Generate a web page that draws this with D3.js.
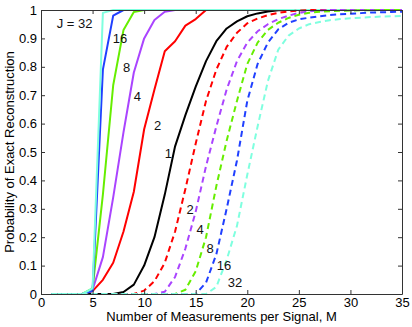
<!DOCTYPE html>
<html>
<head>
<meta charset="utf-8">
<script src="https://cdn.jsdelivr.net/npm/d3@7"></script>
<style>
  body { margin: 0; background: #fff; }
  svg { display: block; font-family: 'Liberation Sans', Arial, sans-serif; }
</style>
</head>
<body>
<svg id="chart" width="412" height="327"></svg>
<script>
// Data
//
// number of measurements per signal
var M = [1, 2, 3, 4, 5, 6, 7, 8, 9, 10, 11, 12, 13, 14, 15, 16, 17, 18, 19, 20,
  21, 22, 23, 24, 25, 26, 27, 28, 29, 30, 31, 32, 33, 34, 35]
// solid curves (joint recovery), J = 1, 2, 4, 8, 16, 32
var solid1 = [0, 0, 0, 0, 0, 0, 0, 0.007, 0.033, 0.10, 0.20, 0.35, 0.52, 0.63, 0.73, 0.82, 0.89, 0.935, 0.96, 0.978,
  0.988, 0.995, 0.999, 1, 1, 1, 1, 1, 1, 1, 1, 1, 1, 1, 1]
var solid2 = [0, 0, 0, 0, 0.01, 0.05, 0.11, 0.22, 0.36, 0.58, 0.72, 0.855, 0.89, 0.945, 0.968, 1, 1, 1, 1, 1,
  1, 1, 1, 1, 1, 1, 1, 1, 1, 1, 1, 1, 1, 1, 1]
var solid4 = [0, 0, 0, 0, 0.015, 0.13, 0.34, 0.57, 0.78, 0.90, 0.965, 0.994, 1, 1, 1, 1, 1, 1, 1, 1,
  1, 1, 1, 1, 1, 1, 1, 1, 1, 1, 1, 1, 1, 1, 1]
var solid8 = [0, 0, 0, 0, 0.02, 0.35, 0.735, 0.93, 0.993, 1, 1, 1, 1, 1, 1, 1, 1, 1, 1, 1,
  1, 1, 1, 1, 1, 1, 1, 1, 1, 1, 1, 1, 1, 1, 1]
var solid16 = [0, 0, 0, 0, 0.01, 0.79, 0.98, 1, 1, 1, 1, 1, 1, 1, 1, 1, 1, 1, 1, 1,
  1, 1, 1, 1, 1, 1, 1, 1, 1, 1, 1, 1, 1, 1, 1]
var solid32 = [0, 0, 0, 0, 0.02, 0.99, 1, 1, 1, 1, 1, 1, 1, 1, 1, 1, 1, 1, 1, 1,
  1, 1, 1, 1, 1, 1, 1, 1, 1, 1, 1, 1, 1, 1, 1]
// dashed curves (separate recovery), J = 2, 4, 8, 16, 32
var dashed2 = [0, 0, 0, 0, 0, 0, 0, 0, 0, 0.012, 0.045, 0.11, 0.22, 0.37, 0.53, 0.68, 0.79, 0.87, 0.92, 0.953,
  0.97, 0.982, 0.99, 0.995, 0.998, 1, 1, 1, 1, 1, 1, 1, 1, 1, 1]
var dashed4 = [0, 0, 0, 0, 0, 0, 0, 0, 0, 0, 0, 0.008, 0.06, 0.16, 0.29, 0.45, 0.59, 0.72, 0.82, 0.885,
  0.925, 0.95, 0.968, 0.98, 0.99, 0.995, 0.998, 1, 1, 1, 1, 1, 1, 1, 1]
var dashed8 = [0, 0, 0, 0, 0, 0, 0, 0, 0, 0, 0, 0, 0, 0.015, 0.08, 0.2, 0.38, 0.54, 0.68, 0.81,
  0.885, 0.93, 0.955, 0.972, 0.983, 0.99, 0.994, 0.996, 0.997, 0.998, 0.999, 0.999, 1, 1, 1]
var dashed16 = [0, 0, 0, 0, 0, 0, 0, 0, 0, 0, 0, 0, 0, 0, 0, 0.04, 0.14, 0.30, 0.47, 0.68,
  0.81, 0.885, 0.932, 0.955, 0.967, 0.973, 0.978, 0.982, 0.985, 0.987, 0.989, 0.991, 0.992, 0.993, 0.994]
var dashed32 = [0, 0, 0, 0, 0, 0, 0, 0, 0, 0, 0, 0, 0, 0, 0, 0, 0.025, 0.12, 0.24, 0.42,
  0.59, 0.75, 0.86, 0.91, 0.935, 0.95, 0.958, 0.964, 0.968, 0.971, 0.973, 0.975, 0.977, 0.978, 0.979]
// tick labels
var xTicks = [0, 5, 10, 15, 20, 25, 30, 35]
var yTicks = [0, 0.1, 0.2, 0.3, 0.4, 0.5, 0.6, 0.7, 0.8, 0.9, 1]
// curve labels, in data coordinates [M, P]
var labelText = ['J = 32', '16', '8', '4', '2', '1', '2', '4', '8', '16', '32']
var labelM = [3.25, 7.66, 8.31, 9.34, 11.31, 12.34, 14.45, 15.42, 16.39, 17.74, 18.81]
var labelP = [0.951, 0.901, 0.796, 0.695, 0.595, 0.496, 0.298, 0.227, 0.160, 0.099, 0.039]

//
// Layout
//
var margin = { left: 41, right: 10, top: 10, bottom: 33 }
var width = 412, height = 327
var colorCyan = '#7fffdf'
var colorBlue = '#2040ff'
var colorGreen = '#66ee00'
var colorPurple = '#aa44ff'
var colorRed = '#ff0000'
var colorBlack = '#000000'

var series = [
  { values: solid1, color: colorBlack, dash: null },
  { values: solid2, color: colorRed, dash: null },
  { values: solid4, color: colorPurple, dash: null },
  { values: solid8, color: colorGreen, dash: null },
  { values: solid16, color: colorBlue, dash: null },
  { values: solid32, color: colorCyan, dash: null },
  { values: dashed2, color: colorRed, dash: '6,4' },
  { values: dashed4, color: colorPurple, dash: '6,4' },
  { values: dashed8, color: colorGreen, dash: '6,4' },
  { values: dashed16, color: colorBlue, dash: '6,4' },
  { values: dashed32, color: colorCyan, dash: '6,4' }
]

var svg = d3.select('#chart')
var x = d3.scaleLinear().domain([0, 35]).range([margin.left, width - margin.right])
var y = d3.scaleLinear().domain([0, 1]).range([height - margin.bottom, margin.top])

// clip so the lines at P = 1 do not spill over the frame
svg.append('clipPath').attr('id', 'clip')
  .append('rect')
  .attr('x', x(0)).attr('y', y(1) - 1)
  .attr('width', x(35) - x(0)).attr('height', y(0) - y(1) + 2)

var line = d3.line()
  .x(function(d, i) { return x(M[i]) })
  .y(function(d) { return y(d) })

svg.append('g').attr('clip-path', 'url(#clip)')
  .selectAll('path')
  .data(series)
  .enter().append('path')
  .attr('d', function(s) { return line(s.values) })
  .attr('fill', 'none')
  .attr('stroke', function(s) { return s.color })
  .attr('stroke-width', 2)
  .attr('stroke-dasharray', function(s) { return s.dash })
  .attr('stroke-linejoin', 'round')

//
// Axes (ticks inward, box on)
//
var fmtY = function(d) { return d === 0 || d === 1 ? String(d) : d3.format('.1f')(d) }

var gx = svg.append('g')
  .attr('transform', 'translate(0,' + y(0) + ')')
  .call(d3.axisBottom(x).tickValues(xTicks).tickSizeInner(-4).tickSizeOuter(0).tickPadding(4))
var gy = svg.append('g')
  .attr('transform', 'translate(' + x(0) + ',0)')
  .call(d3.axisLeft(y).tickValues(yTicks).tickFormat(fmtY).tickSizeInner(-4).tickSizeOuter(0).tickPadding(4))
var gt = svg.append('g')
  .attr('transform', 'translate(0,' + y(1) + ')')
  .call(d3.axisTop(x).tickValues(xTicks).tickFormat('').tickSizeInner(-4).tickSizeOuter(0))
var gr = svg.append('g')
  .attr('transform', 'translate(' + x(35) + ',0)')
  .call(d3.axisRight(y).tickValues(yTicks).tickFormat('').tickSizeInner(-4).tickSizeOuter(0))

svg.selectAll('.tick text')
  .attr('font-size', 13)
  .attr('font-family', "'Liberation Sans', Arial, sans-serif")
  .attr('fill', '#000')
svg.selectAll('.domain, .tick line').attr('stroke', '#333')

//
// Axis titles
//
svg.append('text')
  .attr('x', (x(0) + x(35)) / 2)
  .attr('y', 321)
  .attr('text-anchor', 'middle')
  .attr('font-size', 13)
  .text('Number of Measurements per Signal, M')

svg.append('text')
  .attr('transform', 'translate(14,' + ((y(0) + y(1)) / 2) + ') rotate(-90)')
  .attr('text-anchor', 'middle')
  .attr('font-size', 13)
  .text('Probability of Exact Reconstruction')

//
// Curve labels
//
svg.append('g').selectAll('text')
  .data(labelText)
  .enter().append('text')
  .attr('x', function(d, i) { return x(labelM[i]) })
  .attr('y', function(d, i) { return y(labelP[i]) })
  .attr('text-anchor', 'middle')
  .attr('dominant-baseline', 'central')
  .attr('font-size', 13)
  .attr('fill', '#111')
  .text(function(d) { return d })
</script>
</body>
</html>
